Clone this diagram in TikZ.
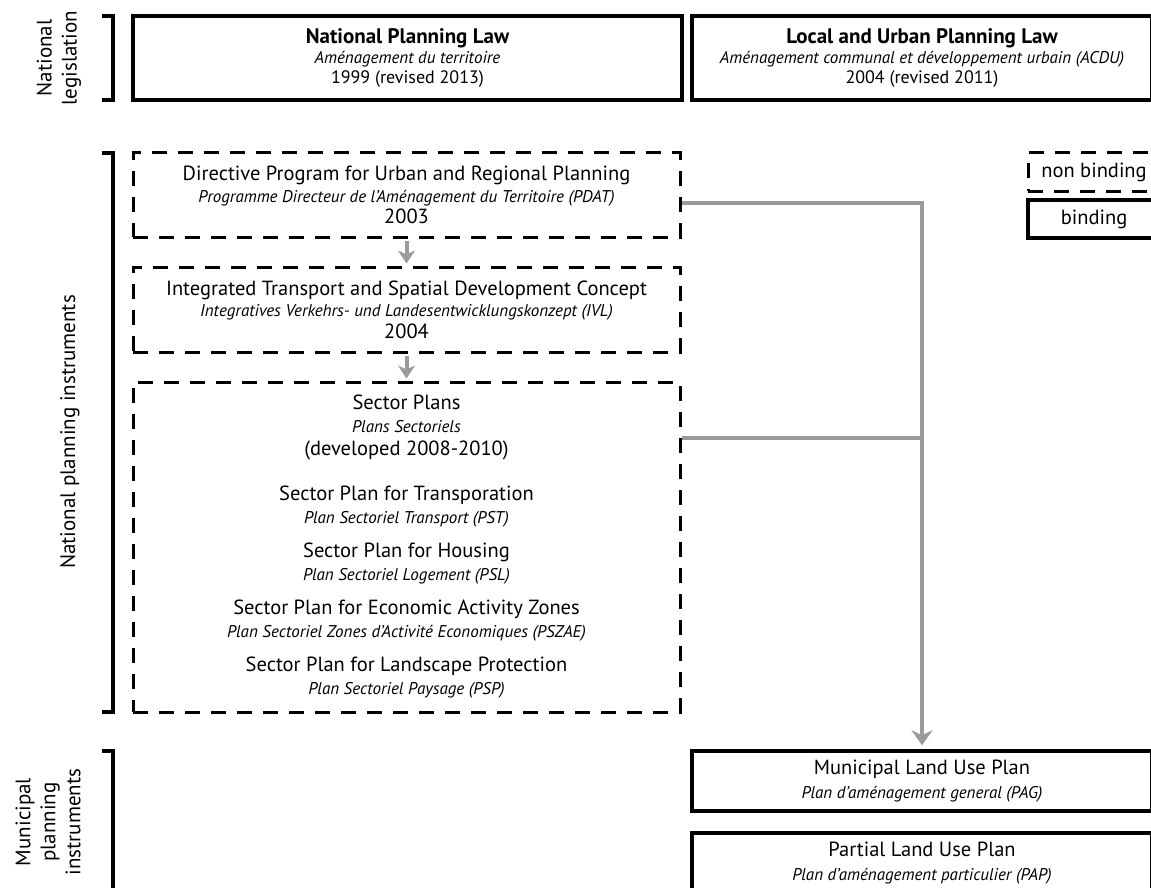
\documentclass[tikz,border=0pt]{standalone}
\usepackage{fontspec}
\setmainfont{PT Sans}
\usetikzlibrary{arrows.meta}
\definecolor{flowgray}{RGB}{154,154,154}
\newcommand{\itline}[1]{{\itshape\fontsize{17}{20}\selectfont #1}}

\begin{document}
\begin{tikzpicture}[
    x=1pt, y=-1pt,
    lawbox/.style={rectangle, draw, line width=3.5pt, minimum width=460pt, minimum height=84pt, inner sep=0pt, align=center, font=\fontsize{18}{20}\selectfont},
    planbox/.style={rectangle, draw, line width=3pt, dash pattern=on 15pt off 11pt, minimum width=547pt, inner sep=0pt, align=center, font=\fontsize{20.5}{21.5}\selectfont},
    munibox/.style={rectangle, draw, line width=3.5pt, minimum width=460pt, minimum height=60pt, inner sep=0pt, align=center, font=\fontsize{20.5}{24}\selectfont},
    keybox/.style={rectangle, draw, minimum width=132pt, minimum height=38pt, inner sep=0pt, font=\fontsize{20.5}{20}\selectfont},
    bracket/.style={line width=3.5pt},
    sidelabel/.style={rotate=90, align=center, font=\fontsize{21}{25}\selectfont},
    flow/.style={draw=flowgray, line width=4pt},
    bigarrow/.style={flow, -{Stealth[length=15pt, width=21pt, inset=5pt]}},
    smallarrow/.style={flow, -{Stealth[length=13pt, width=17pt, inset=4pt]}}
]
\useasboundingbox (0,0) rectangle (1151,888);
\clip (0,0) rectangle (1151,888);

% Side brackets and labels
\draw[bracket] (102,16) -- (113,16) -- (113,100) -- (102,100);
\draw[bracket] (102,153) -- (113,153) -- (113,712) -- (102,712);
\draw[bracket] (102,751) -- (113,751) -- (113,900);
\node[sidelabel] (natleg) at (59,58) {National\\legislation};
\node[sidelabel] (natinst) at (70,432) {National planning instruments};
\node[sidelabel] (muninst) at (48,822) {Municipal\\planning\\instruments};

% National legislation
\node[lawbox, minimum width=549pt] (natlaw) at (407.5,58) {
{\bfseries\fontsize{21}{20}\selectfont National Planning Law}\\
{\itshape\fontsize{17}{20}\selectfont Aménagement du territoire}\\
1999 (revised 2013)
};
\node[lawbox] (locallaw) at (922,58) {
{\bfseries\fontsize{21}{20}\selectfont Local and Urban Planning Law}\\
{\itshape\fontsize{17}{20}\selectfont Aménagement communal et développement urbain (ACDU)}\\
2004 (revised 2011)
};

% National planning instruments
\node[planbox, minimum height=84pt] (pdat) at (406.5,195) {
Directive Program for Urban and Regional Planning\\
\itline{Programme Directeur de l’Aménagement du Territoire (PDAT)}\\
2003
};
\node[planbox, minimum height=85pt] (ivl) at (406.5,309.5) {
Integrated Transport and Spatial Development Concept\\
\itline{Integratives Verkehrs- und Landesentwicklungskonzept (IVL)}\\
2004
};
\node[planbox, minimum height=330pt, font=\fontsize{20.5}{23}\selectfont] (sector) at (406.5,547) {
Sector Plans\\
\itline{Plans Sectoriels}\\
(developed 2008-2010)\\[22pt]
Sector Plan for Transporation\\
\itline{Plan Sectoriel Transport (PST)}\\[11pt]
Sector Plan for Housing\\
\itline{Plan Sectoriel Logement (PSL)}\\[11pt]
Sector Plan for Economic Activity Zones\\
\itline{Plan Sectoriel Zones d’Activité Economiques (PSZAE)}\\[11pt]
Sector Plan for Landscape Protection\\
\itline{Plan Sectoriel Paysage (PSP)}
};

% Municipal planning instruments
\node[munibox] (pag) at (922,781) {
Municipal Land Use Plan\\
\itline{Plan d’aménagement general (PAG)}
};
\node[munibox] (pap) at (922,863) {
Partial Land Use Plan\\
\itline{Plan d’aménagement particulier (PAP)}
};

% Legend
\node[keybox, line width=3pt, dash pattern=on 15pt off 11pt] (nonbind) at (1094,172) {non binding};
\node[keybox, line width=3.5pt] (bind) at (1094,219) {binding};

% Arrows
\draw[smallarrow] ([yshift=-2pt]pdat.south) -- ([yshift=2pt]ivl.north);
\draw[smallarrow] ([yshift=-2pt]ivl.south) -- ([yshift=2pt]sector.north);
\coordinate (pdatout) at ([yshift=-8pt]pdat.east);
\coordinate (sectorout) at ([yshift=109pt]sector.east);
\draw[bigarrow] (pdatout) -| ([yshift=4pt]pag.north);
\draw[flow] (sectorout) -- (sectorout -| pag.north);

\end{tikzpicture}
\end{document}
